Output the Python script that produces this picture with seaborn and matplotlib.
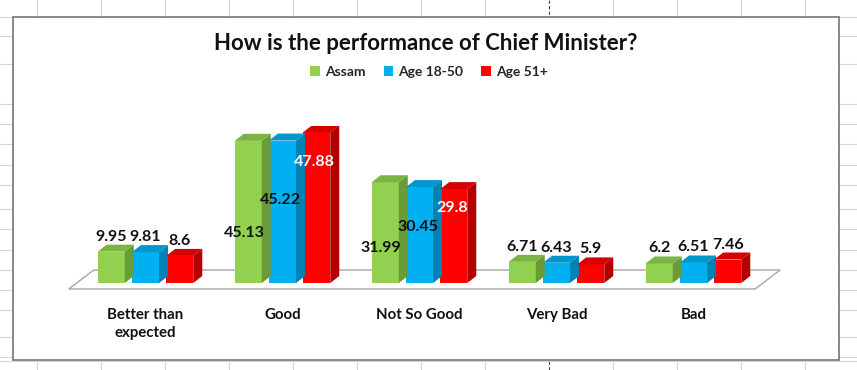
import numpy as np
import pandas as pd
import matplotlib
matplotlib.use("Agg")
import matplotlib.pyplot as plt
import seaborn as sns
from matplotlib.patches import Polygon, Rectangle
from matplotlib.lines import Line2D
from matplotlib.transforms import IdentityTransform

# ---------------- data ----------------
categories = ["Better than\nexpected", "Good", "Not So Good", "Very Bad", "Bad"]
series = ["Assam", "Age 18-50", "Age 51+"]
assam = [9.95, 45.13, 31.99, 6.71, 6.2]
age_18_50 = [9.81, 45.22, 30.45, 6.43, 6.51]
age_51 = [8.6, 47.88, 29.8, 5.9, 7.46]
title = "How is the performance of Chief Minister?"

front_colors = ["#92D050", "#00B0F0", "#FF0000"]
side_colors = ["#6A9B36", "#0082B4", "#B20000"]
top_colors = ["#7CB443", "#0096CE", "#D40000"]

df = pd.DataFrame({
    "category": categories * 3,
    "series": [s for s in series for _ in categories],
    "value": assam + age_18_50 + age_51,
})

W, H = 857, 370
DPI = 100
sns.set_theme(style="white")
plt.rcParams["font.family"] = ["Lato", "DejaVu Sans"]
fig = plt.figure(figsize=(W / DPI, H / DPI), dpi=DPI)
fig.patch.set_facecolor("white")

# ---- spreadsheet background (decoration) ----
grid_c = "#D6D6D6"
for gx in range(37, W, 64):
    ls = (0, (3, 2)) if gx == 549 else "-"
    col = "#444444" if gx == 549 else grid_c
    fig.add_artist(Line2D([gx / W, gx / W], [0, 1], color=col, lw=0.8, ls=ls, zorder=0))
for gy in [17, 36, 64, 104, 124, 144, 165, 185, 209, 229, 250, 270, 290, 310, 337, 357, 361]:
    fig.add_artist(Line2D([0, 1], [1 - gy / H, 1 - gy / H], color=grid_c, lw=0.8, zorder=0))
# chart area frame
fig.add_artist(Rectangle((13 / W, 1 - 360 / H), (839 - 13) / W, (360 - 17) / H,
                         facecolor="white", edgecolor="#7F7F7F", lw=1.3, zorder=0.5))

# ---------------- axes ----------------
ax_left, ax_right = 77, 762
ax_bottom_px = 283
ymax = 50.0
px_per_unit = 3.15
ax_top_px = ax_bottom_px - ymax * px_per_unit
ax = fig.add_axes([ax_left / W, 1 - ax_bottom_px / H, (ax_right - ax_left) / W,
                   (ax_bottom_px - ax_top_px) / H])
ax.set_zorder(2)
ax.patch.set_alpha(0)

sns.barplot(data=df, x="category", y="value", hue="series", order=categories,
            hue_order=series, palette=front_colors, width=0.75, gap=0.21,
            saturation=1, ax=ax, edgecolor="none", zorder=3)
ax.set_xlim(-0.5, 4.5)
ax.set_ylim(0, ymax)
for s in ax.spines.values():
    s.set_visible(False)
ax.set_yticks([])
ax.set_xlabel("")
ax.set_ylabel("")
ax.tick_params(axis="x", length=0, pad=18)
for lab in ax.get_xticklabels():
    lab.set_fontweight("bold")
    lab.set_fontsize(10.8)
    lab.set_color("#111111")
    lab.set_linespacing(1.4)

# ---- 3D floor ----
T = ax.transData
fdx, fdy = 25, 19
fl = T.transform((-0.56, 0))[0]
fr = T.transform((4.45, 0))[0]
fy = T.transform((0, 0))[1] - 6
floor = Polygon([(fl, fy), (fr, fy), (fr + fdx, fy + fdy), (fl + fdx, fy + fdy)],
                closed=True, facecolor="white", edgecolor="#A6A6A6", lw=1.0,
                transform=IdentityTransform(), zorder=1)
fig.add_artist(floor)

# ---- 3D bar faces & labels ----
bdx, bdy = 9, 7
fracs = [0.35, 0.58, 0.80]
xshift = [-4, -2, -2]
for si, cont in enumerate(ax.containers):
    for bar, val in zip(cont.patches, cont.datavalues):
        x0, y0 = bar.get_x(), 0
        x1, y1 = bar.get_x() + bar.get_width(), bar.get_height()
        (px0, py0) = T.transform((x0, y0))
        (px1, py1) = T.transform((x1, y1))
        side = Polygon([(px1, py0), (px1 + bdx, py0 + bdy), (px1 + bdx, py1 + bdy), (px1, py1)],
                       closed=True, facecolor=side_colors[si], edgecolor="none",
                       transform=IdentityTransform(), zorder=3)
        top = Polygon([(px0, py1), (px1, py1), (px1 + bdx, py1 + bdy), (px0 + bdx, py1 + bdy)],
                      closed=True, facecolor=top_colors[si], edgecolor="none",
                      transform=IdentityTransform(), zorder=3)
        ax.add_artist(side)
        ax.add_artist(top)
        cx = (px0 + px1) / 2
        lab = f"{val:g}"
        if val < 15:
            ax.text(cx, py1 + bdy + 1, lab, transform=IdentityTransform(),
                    ha="center", va="bottom", fontsize=11.5, fontweight="bold",
                    color="#111111", zorder=5)
        else:
            ly = T.transform((0, val * fracs[si]))[1]
            ax.text(cx + xshift[si], ly, lab, transform=IdentityTransform(),
                    ha="center", va="center", fontsize=11.5, fontweight="bold",
                    color="white" if si == 2 else "#111111", zorder=5)

# ---- legend & title ----
sns.move_legend(ax, "center", bbox_to_anchor=((429 - ax_left) / (ax_right - ax_left),
                (ax_bottom_px - 72) / (ax_bottom_px - ax_top_px)),
                ncol=3, frameon=False, title=None, handlelength=0.7, handleheight=0.7,
                handletextpad=0.35, columnspacing=1.3, prop={"weight": "bold", "size": 10})

fig.text(426 / W, 1 - 44 / H, title, ha="center", va="center",
         fontsize=16, fontweight="bold", color="#111111")

fig.savefig("out.png", dpi=DPI, facecolor="white")
